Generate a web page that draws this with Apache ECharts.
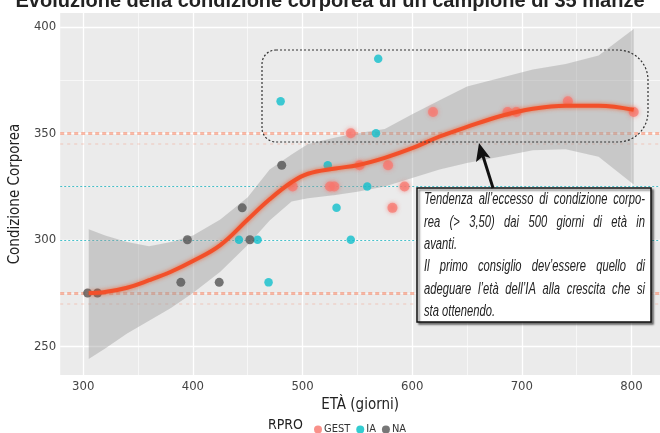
<!DOCTYPE html>
<html>
<head>
<meta charset="utf-8">
<script src="https://cdn.jsdelivr.net/npm/echarts@6/dist/echarts.min.js"></script>
<style>
html,body{margin:0;padding:0;background:#fff;}
#c{width:660px;height:433px;}
</style>
</head>
<body>
<div id="c"></div>
<script>
// ---- data ----
const titleText = 'Evoluzione della condizione corporea di un campione di 35 manze';
const xTicks = [300, 400, 500, 600, 700, 800];
const yTicks = [250, 300, 350, 400];
const xMinor = [350, 450, 550, 650, 750];
const yMinor = [275, 325, 375];

const gestX = [491, 525, 529, 544, 552, 578, 582, 593, 619, 687, 695, 742, 802];
const gestY = [325, 325, 325, 350, 335, 335, 315, 325, 360, 360, 360, 365, 360];

const iaX = [442, 459, 469, 480, 523, 531, 544, 559, 567, 569];
const iaY = [300, 300, 280, 365, 335, 315, 300, 325, 350, 385];

const naX = [304, 313, 389, 395, 424, 445, 452, 481];
const naY = [275, 275, 280, 300, 280, 315, 300, 335];

const fitX = [305, 320, 340, 360, 380, 400, 425, 450, 470, 490, 505, 530, 550, 575, 600, 625, 650, 680, 710, 740, 770, 802];
const fitY = [275, 275.5, 277.5, 281, 285, 290, 297.5, 309.5, 319, 327, 331, 333.5, 335, 338.5, 343, 348.5, 353, 358, 361.5, 363, 363, 361];
const fitLow = [244, 249, 256, 262, 268, 275, 285, 297.5, 309, 318, 319.5, 321, 322.5, 325, 329, 333, 336, 339, 342, 342.5, 339, 326];
const fitHigh = [305, 302, 299, 297, 299, 302, 309.5, 320, 333, 340, 345, 348, 350, 352, 359, 365.5, 372, 376, 380, 382.5, 386.5, 399];

const bandOrange = [350, 275];
const bandOrangeFaint = [345, 270];
const bandTeal = [325, 300];

const noteLines = [
  'Tendenza all\u2019eccesso di condizione corpo-',
  'rea (> 3,50) dai 500 giorni di et\u00e0 in',
  'avanti.',
  'Il primo consiglio dev\u2019essere quello di',
  'adeguare l\u2019et\u00e0 dell\u2019IA alla crescita che si',
  'sta ottenendo.'
];
const noteJustify = [true, true, false, true, true, false];

// ---- chart ----
const chart = echarts.init(document.getElementById('c'), null, {renderer: 'canvas'});
const FONT = '"DejaVu Sans Condensed", "Liberation Sans Narrow", "Liberation Sans", Arial, sans-serif';
const NOTE_FONT = 'italic 16px "Liberation Sans", Arial, sans-serif';
const NOTE_SCALE = 0.7;
const NOTE_W = 221 / NOTE_SCALE;

const gridLines = [];
xTicks.forEach(v => gridLines.push({xAxis: v, lineStyle: {color: '#fff', width: 1.3, type: 'solid'}}));
xMinor.forEach(v => gridLines.push({xAxis: v, lineStyle: {color: '#fff', width: 0.6, type: 'solid'}}));
yTicks.forEach(v => gridLines.push({yAxis: v, lineStyle: {color: '#fff', width: 1.3, type: 'solid'}}));
yMinor.forEach(v => gridLines.push({yAxis: v, lineStyle: {color: '#fff', width: 0.6, type: 'solid'}}));

const bandLines = [];
bandOrange.forEach(v => bandLines.push({yAxis: v, lineStyle: {color: 'rgba(248,118,80,0.5)', width: 3, type: [4, 3]}}));
bandOrangeFaint.forEach(v => bandLines.push({yAxis: v, lineStyle: {color: 'rgba(248,118,80,0.16)', width: 2, type: [3, 4]}}));
bandTeal.forEach(v => bandLines.push({yAxis: v, lineStyle: {color: 'rgba(40,180,190,0.85)', width: 1, type: [2, 2]}}));

const ribbonData = fitX.map((x, i) => [x, fitLow[i], fitHigh[i]]);

// justified note text
const mctx = document.createElement('canvas').getContext('2d');
mctx.font = NOTE_FONT;
const noteChildren = [];
noteLines.forEach((line, li) => {
  const y = li * 22.3;
  if (!noteJustify[li]) {
    noteChildren.push({type: 'text', x: 0, y: y, z: 40, style: {text: line, font: NOTE_FONT, fill: '#222'}});
    return;
  }
  const words = line.split(' ');
  const widths = words.map(w => mctx.measureText(w).width);
  const total = widths.reduce((a, b) => a + b, 0);
  const gap = (NOTE_W - total) / (words.length - 1);
  let x = 0;
  words.forEach((w, wi) => {
    noteChildren.push({type: 'text', x: x, y: y, z: 40, style: {text: w, font: NOTE_FONT, fill: '#222'}});
    x += widths[wi] + gap;
  });
});

chart.setOption({
  animation: false,
  backgroundColor: '#ffffff',
  title: {
    text: titleText, left: 'center', top: -14,
    textStyle: {fontSize: 20, fontWeight: 'bold', color: '#222', fontFamily: '"Liberation Sans", Arial, sans-serif'}
  },
  grid: {left: 53, right: 0, top: 13, bottom: 58, show: true, backgroundColor: '#ebebeb', borderWidth: 0},
  xAxis: {
    type: 'value', min: 279, max: 826,
    name: 'ET\u00c0 (giorni)', nameLocation: 'middle', nameGap: 20,
    nameTextStyle: {fontSize: 15, color: '#222', fontFamily: FONT},
    axisLine: {show: false}, axisTick: {show: false}, splitLine: {show: false},
    axisLabel: {customValues: xTicks, fontSize: 13, color: '#444', margin: 5, fontFamily: FONT}
  },
  yAxis: {
    type: 'value', min: 236.5, max: 406.5,
    name: 'Condizione Corporea', nameLocation: 'middle', nameGap: 32,
    nameTextStyle: {fontSize: 15, color: '#222', fontFamily: FONT},
    axisLine: {show: false}, axisTick: {show: false}, splitLine: {show: false},
    axisLabel: {customValues: yTicks, fontSize: 13, color: '#444', margin: 4, fontFamily: FONT}
  },
  legend: {
    left: 309, top: 419, itemWidth: 8, itemHeight: 8, itemGap: 6,
    textStyle: {fontSize: 11, color: '#333', padding: [0, 0, 0, -3], fontFamily: FONT},
    data: [
      {name: 'GEST', icon: 'circle', itemStyle: {color: '#f8766d', opacity: 0.8}},
      {name: 'IA', icon: 'circle', itemStyle: {color: '#00bfc4'}},
      {name: 'NA', icon: 'circle', itemStyle: {color: '#555555'}}
    ]
  },
  series: [
    {
      name: 'grid', type: 'scatter', data: [[300, 300]], symbolSize: 0, silent: true, z: 1,
      markLine: {silent: true, symbol: 'none', label: {show: false}, z: 1, data: gridLines}
    },
    {
      name: 'bands', type: 'scatter', data: [[300, 300]], symbolSize: 0, silent: true, z: 2,
      markLine: {silent: true, symbol: 'none', label: {show: false}, z: 2, data: bandLines}
    },
    {
      name: 'ribbon', type: 'custom', z: 3, silent: true,
      data: ribbonData, encode: {x: 0, y: [1, 2]},
      renderItem: function (params, api) {
        if (params.dataIndex !== 0) return null;
        const pts = [];
        for (let i = 0; i < fitX.length; i++) pts.push(api.coord([fitX[i], fitLow[i]]));
        for (let i = fitX.length - 1; i >= 0; i--) pts.push(api.coord([fitX[i], fitHigh[i]]));
        return {type: 'polygon', shape: {points: pts}, style: {fill: 'rgba(153,153,153,0.42)'}};
      }
    },
    {
      name: 'GEST', type: 'scatter', z: 5,
      data: gestX.map((x, i) => [x, gestY[i]]), symbolSize: 10,
      itemStyle: {color: '#f8766d', opacity: 0.7, shadowBlur: 4, shadowColor: '#f8766d'}
    },
    {
      name: 'IA', type: 'scatter', z: 5,
      data: iaX.map((x, i) => [x, iaY[i]]), symbolSize: 8.5,
      itemStyle: {color: '#10bfcc'}
    },
    {
      name: 'NA', type: 'scatter', z: 5,
      data: naX.map((x, i) => [x, naY[i]]), symbolSize: 9,
      itemStyle: {color: '#555555'}
    },
    {
      name: 'fit', type: 'line', z: 6, smooth: 0.4, showSymbol: false, silent: true,
      data: fitX.map((x, i) => [x, fitY[i]]),
      lineStyle: {color: '#f2502a', width: 4, shadowBlur: 4, shadowColor: 'rgba(245,90,40,0.8)'}
    }
  ],
  graphic: [
    {
      type: 'rect', z: 20, silent: true,
      shape: {x: 262, y: 50, width: 386, height: 92, r: [14, 30, 30, 14]},
      style: {fill: 'none', stroke: '#333', lineWidth: 1.2, lineDash: [2, 2]}
    },
    {
      type: 'rect', z: 25, silent: true,
      shape: {x: 417, y: 188, width: 234, height: 134},
      style: {fill: '#fff', stroke: '#111', lineWidth: 1.5, shadowBlur: 2, shadowOffsetX: 2, shadowOffsetY: 2, shadowColor: 'rgba(0,0,0,0.5)'}
    },
    {
      type: 'line', z: 26, silent: true,
      shape: {x1: 493, y1: 188, x2: 483, y2: 156},
      style: {stroke: '#111', lineWidth: 3}
    },
    {
      type: 'polygon', z: 26, silent: true,
      shape: {points: [[479, 143], [490.5, 158], [483.5, 156], [476, 162]]},
      style: {fill: '#111'}
    },
    {
      type: 'text', left: 268, top: 418, z: 30,
      style: {text: 'RPRO', font: '14px ' + FONT, fill: '#222'}
    },
    {
      type: 'group', x: 424, y: 192, scaleX: NOTE_SCALE, z: 40,
      children: noteChildren
    }
  ]
});
</script>
</body>
</html>
